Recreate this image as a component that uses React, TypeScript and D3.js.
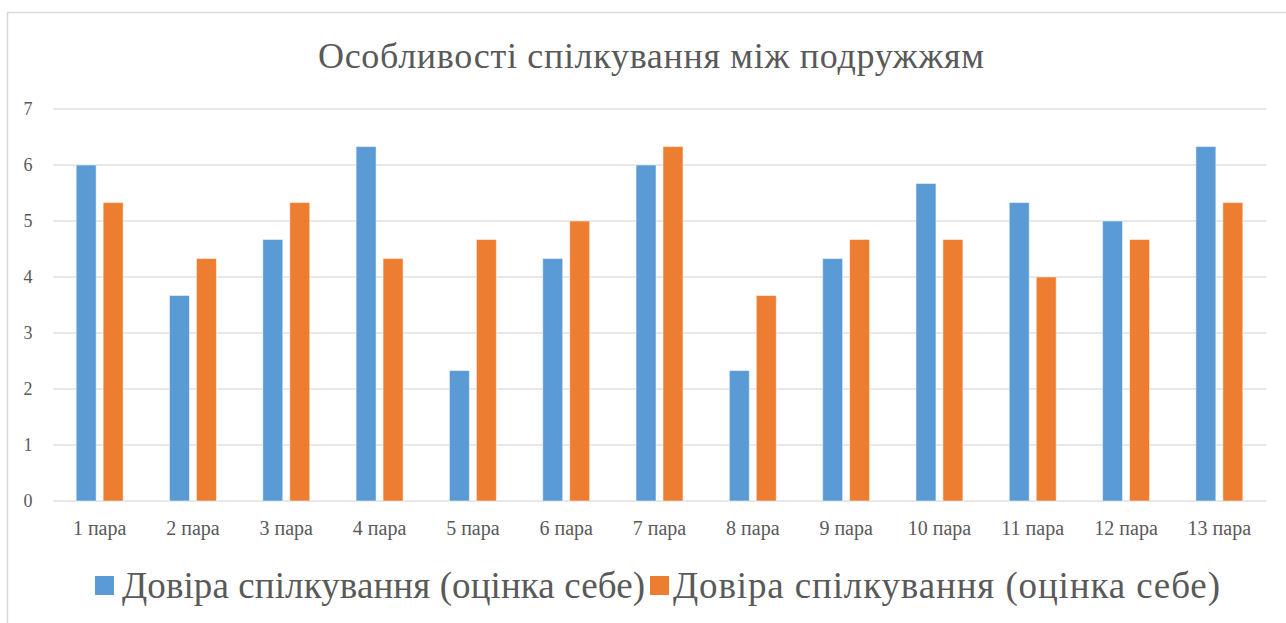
import * as d3 from "d3";

const title = "Особливості спілкування між подружжям";
const categories = [
  "1 пара", "2 пара", "3 пара", "4 пара", "5 пара", "6 пара", "7 пара",
  "8 пара", "9 пара", "10 пара", "11 пара", "12 пара", "13 пара",
];
const seriesNames = [
  "Довіра спілкування (оцінка себе)",
  "Довіра спілкування (оцінка себе)",
];
const series1 = [6, 3.67, 4.67, 6.33, 2.33, 4.33, 6, 2.33, 4.33, 5.67, 5.33, 5, 6.33];
const series2 = [5.33, 4.33, 5.33, 4.33, 4.67, 5, 6.33, 3.67, 4.67, 4.67, 4, 4.67, 5.33];
const yTicks = [0, 1, 2, 3, 4, 5, 6, 7];
const colors = ["#5b9bd5", "#ed7d31"];

const W = 1286;
const H = 623;
const serif = { fontFamily: "Liberation Serif" };

export default function App() {
  const left = 53;
  const right = 1266;
  const top = 109;
  const bottom = 501;

  const x = d3.scaleBand<string>().domain(categories).range([left, right]);
  const inner = d3
    .scaleBand<number>()
    .domain([0, 1])
    .range([0, x.bandwidth()])
    .paddingInner(0.259)
    .paddingOuter(0.86);
  const y = d3.scaleLinear().domain([0, 7]).range([bottom, top]);

  const data = [series1, series2];

  return (
    <svg width={W} height={H} style={{ position: "absolute", left: 0, top: 0, background: "#fff" }}>
      <rect x={7.5} y={12.5} width={W + 10} height={H + 10} fill="none" stroke="#d9d9d9" strokeWidth={1.5} />
      <text x={651} y={68} textAnchor="middle" fontSize={36} fill="#595959" style={serif} textLength={666} lengthAdjust="spacing">
        {title}
      </text>

      {yTicks.map((t) => (
        <g key={t}>
          <line x1={left} x2={right} y1={y(t)} y2={y(t)} stroke="#e0e0e0" strokeWidth={1.3} />
          <text x={28} y={y(t) + 6} textAnchor="middle" fontSize={18} fill="#595959" style={serif}>
            {t}
          </text>
        </g>
      ))}

      {categories.map((c, i) => (
        <g key={c}>
          {data.map((s, k) => (
            <rect
              key={k}
              x={(x(c) ?? 0) + (inner(k) ?? 0)}
              y={y(s[i])}
              width={inner.bandwidth()}
              height={bottom - y(s[i])}
              fill={colors[k]}
              stroke="#fff"
              strokeOpacity={0.5}
              strokeWidth={1}
            />
          ))}
          <text
            x={(x(c) ?? 0) + x.bandwidth() / 2}
            y={535}
            textAnchor="middle"
            fontSize={20}
            fill="#595959"
            style={serif}
          >
            {c}
          </text>
        </g>
      ))}

      {seriesNames.map((n, k) => {
        const sx = [95, 650][k];
        const tx = [122, 673][k];
        const tl = [523, 547][k];
        return (
          <g key={k}>
            <rect x={sx} y={576} width={19} height={19} fill={colors[k]} />
            <text x={tx} y={598} fontSize={37} fill="#595959" style={serif} textLength={tl} lengthAdjust="spacing">
              {n}
            </text>
          </g>
        );
      })}
    </svg>
  );
}
